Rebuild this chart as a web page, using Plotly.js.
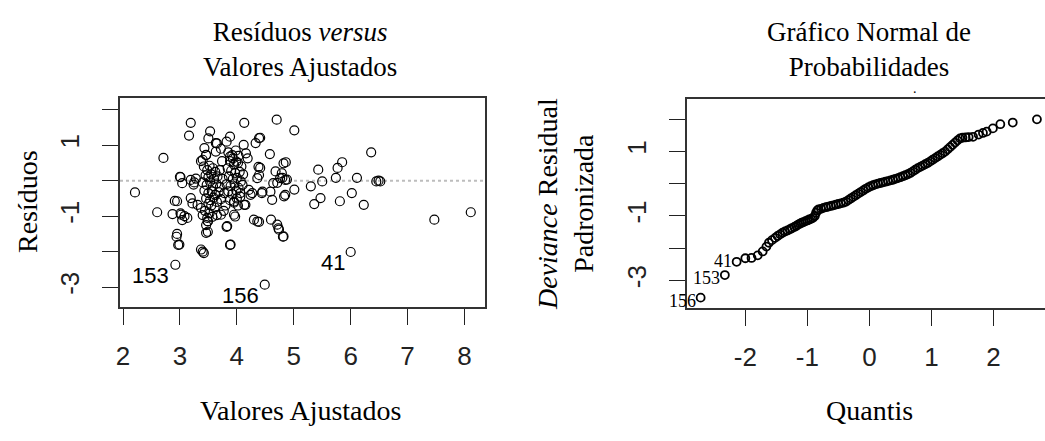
<!DOCTYPE html>
<html>
<head>
<meta charset="utf-8">
<script src="https://cdn.plot.ly/plotly-3.0.1.min.js"></script>
<style>
  body { margin: 0; background: #fff; }
  #chart { width: 1045px; height: 441px; }
</style>
</head>
<body>
<div id="chart"></div>
<script>
// Left panel: residuals vs fitted values
const fittedX = [
  3.19, 3.16, 2.71, 2.21, 2.60, 2.95, 2.87, 3.02, 2.95, 2.99, 2.92, 3.01, 3.13, 3.19, 3.37, 3.42, 3.46, 3.37, 3.46, 3.53,
  3.63, 3.83, 3.89, 3.95, 3.72, 3.49, 3.28, 3.24, 3.37, 3.08, 4.13, 4.70, 5.01, 4.39, 4.33, 4.58, 4.86, 4.41, 4.68, 4.80,
  4.88, 4.71, 5.01, 4.83, 4.62, 4.44, 4.27, 4.13, 4.30, 4.39, 4.60, 4.71, 4.74, 4.82, 4.49, 5.30, 5.43, 5.50, 5.47, 5.36,
  5.77, 5.85, 5.74, 5.81, 6.02, 6.11, 6.23, 6.00, 6.36, 6.45, 6.49, 6.52, 7.47, 8.11,
  3.50, 3.65, 3.88, 3.82, 4.12, 4.41, 3.63, 3.46, 3.88, 3.93, 3.99, 4.16, 4.19, 4.38, 4.79, 4.85, 4.76, 4.64, 4.82, 4.85,
  4.59, 4.45, 4.36, 4.73, 4.81, 4.36, 4.39, 4.21, 4.24, 4.15, 3.97, 3.82, 3.88, 3.40, 2.94, 2.97, 3.00, 3.04, 3.19, 3.25,
  2.91, 3.01, 3.04, 3.22, 3.31, 3.40, 3.49, 3.46, 3.49, 3.65, 3.95, 4.00, 4.06, 3.43, 3.40,
  3.42, 3.48, 3.52, 3.58, 3.62, 3.45, 3.50, 3.55, 3.60, 3.66, 3.70, 3.40, 3.47, 3.53, 3.58, 3.64, 3.70, 3.43, 3.50, 3.56,
  3.62, 3.68, 3.46, 3.53, 3.59, 3.65, 3.72, 3.55, 3.61, 3.50, 3.44, 3.52, 3.57, 3.48,
  3.85, 3.92, 3.98, 4.03, 3.88, 3.95, 4.02, 4.08, 3.84, 3.90, 3.97, 4.05, 4.11, 3.86, 3.93, 4.00, 4.07, 3.82, 3.89, 3.96,
  4.03, 4.10, 3.85, 3.92, 3.99, 4.06, 3.88, 3.95, 4.02, 3.80, 3.75, 3.78, 3.74, 3.77, 3.72
];
const residY = [
  1.63, 1.27, 0.64, -0.33, -0.89, -0.58, -0.94, -0.96, -1.50, -1.80, -2.37, 0.10, -1.05, -0.49, -1.94, -2.04, -1.47, 0.55, 0.73, 1.39,
  1.06, -1.28, -1.80, -0.96, -0.96, -1.14, 0.06, -0.11, -0.77, -1.00, 1.63, 1.72, 1.42, 1.20, 1.06, 0.75, 0.52, 0.36, 0.26, 0.08,
  0.03, -0.06, -0.25, -0.44, -0.54, -0.35, -0.35, -0.68, -1.10, -1.16, -1.10, -1.24, -1.38, -1.57, -2.93, -0.16, 0.31, -0.02, -0.49, -0.66,
  0.36, 0.52, 0.08, -0.58, -0.35, 0.08, -0.68, -2.01, 0.80, -0.02, 0.00, -0.02, -1.10, -0.89,
  1.19, 1.05, 1.24, 1.10, 1.01, 1.21, 0.82, 0.72, 0.68, 0.63, 0.54, 0.77, 0.63, 0.39, 0.21, 0.02, 0.07, -0.07, 0.49, -0.40,
  -0.31, -0.31, -1.15, -1.34, -1.58, 0.07, 0.16, -0.26, -0.40, -0.68, -1.01, -1.30, -1.81, -2.00, -1.58, -1.81, 0.11, -0.07, 0.02, -0.05,
  -0.57, -0.92, -1.11, -0.64, -0.68, -0.97, -1.15, -1.25, -1.44, -0.97, -0.59, -0.50, -0.35, 0.92, 0.59,
  0.40, 0.30, 0.42, 0.35, 0.25, 0.15, 0.10, 0.18, 0.05, 0.12, 0.30, -0.05, -0.12, -0.02, -0.15, -0.08, -0.18, -0.28, -0.35, -0.30,
  -0.40, -0.32, -0.50, -0.55, -0.48, -0.60, -0.52, -0.70, -0.75, -0.65, -0.85, -0.92, -1.02, -1.05,
  0.80, 0.72, 0.85, 0.70, 0.55, 0.45, 0.50, 0.40, 0.35, 0.28, 0.22, 0.25, 0.18, 0.12, 0.05, 0.08, -0.02, -0.10, -0.15, -0.08,
  -0.20, -0.12, -0.30, -0.38, -0.28, -0.45, -0.55, -0.62, -0.70, -0.70, 0.05, -0.35, 0.55, -0.85, 0.90
];
const leftLabels = ['153', '156', '41'];
const leftLabelX = [2.92, 4.49, 6.00];
const leftLabelY = [-2.37, -2.93, -2.01];

// Right panel: normal probability plot
const qqX = [
  -2.72, -2.33, -2.14, -2.00, -1.90, -1.80, -1.72, -1.66, -1.62, -1.57, -1.52, -1.48, -1.44, -1.40, -1.36,
  -1.32, -1.28, -1.25, -1.21, -1.18, -1.15, -1.12, -1.09, -1.06, -1.03, -1.00, -0.97, -0.94, -0.91, -0.88, -0.86, -0.84,
  -0.82, -0.78, -0.74, -0.70, -0.66, -0.62, -0.58, -0.54, -0.50, -0.46, -0.42, -0.38, -0.34, -0.30, -0.26, -0.22, -0.18,
  -0.14, -0.10, -0.06, -0.02, 0.02, 0.06, 0.10, 0.14, 0.18, 0.22, 0.26, 0.30, 0.34, 0.38, 0.42, 0.46, 0.50, 0.54, 0.58,
  0.62, 0.66, 0.70, 0.74, 0.78, 0.82, 0.86, 0.90, 0.94, 0.98, 1.02, 1.06, 1.10, 1.14, 1.18, 1.22, 1.26, 1.30, 1.34,
  1.38, 1.42, 1.46, 1.50, 1.55, 1.60, 1.67, 1.76, 1.83, 1.89, 1.99, 2.11, 2.31, 2.70
];
const qqY = [
  -3.53, -2.83, -2.42, -2.31, -2.30, -2.22, -2.10, -1.95, -1.83, -1.75, -1.68, -1.62, -1.57, -1.52, -1.48,
  -1.45, -1.41, -1.38, -1.34, -1.31, -1.27, -1.24, -1.21, -1.19, -1.16, -1.14, -1.11, -1.09, -1.06, -1.00, -0.90, -0.83,
  -0.80, -0.78, -0.75, -0.73, -0.71, -0.69, -0.67, -0.65, -0.63, -0.61, -0.59, -0.56, -0.51, -0.46, -0.41, -0.36, -0.31,
  -0.26, -0.21, -0.16, -0.12, -0.08, -0.05, -0.02, 0.00, 0.02, 0.04, 0.06, 0.08, 0.10, 0.12, 0.15, 0.17, 0.20, 0.23, 0.26,
  0.29, 0.33, 0.38, 0.43, 0.48, 0.52, 0.56, 0.60, 0.64, 0.69, 0.74, 0.79, 0.84, 0.89, 0.94, 0.99, 1.06, 1.13, 1.20,
  1.27, 1.34, 1.40, 1.42, 1.43, 1.44, 1.45, 1.52, 1.57, 1.61, 1.71, 1.84, 1.89, 1.99
];
const qqLabels = ['156', '153', '41'];
const qqLabelX = [-2.72, -2.33, -2.14];
const qqLabelY = [-3.53, -2.83, -2.42];

const xTicksLeft = [2, 3, 4, 5, 6, 7, 8];
const xTicksRight = [-2, -1, 0, 1, 2];
const xTickTextRight = ['-2', '-1', '0', '1', '2'];
const yTickVals = [-3, -2, -1, 0, 1, 2];
const yTickText = ['-3', '', '-1', '', '1', ''];

const serif = 'Liberation Serif, Times New Roman, serif';
const sans = 'Liberation Sans, Arial, sans-serif';
const H = 441;
const py = v => (H - v) / H; // pixel row -> paper y

const traces = [
  { x: fittedX, y: residY, type: 'scatter', mode: 'markers', xaxis: 'x', yaxis: 'y', hoverinfo: 'skip',
    marker: { symbol: 'circle-open', size: 9, color: 'black', line: { width: 1.2, color: 'black' } } },
  { x: qqX, y: qqY, type: 'scatter', mode: 'markers', xaxis: 'x2', yaxis: 'y2', hoverinfo: 'skip',
    marker: { symbol: 'circle-open', size: 8, color: 'black', line: { width: 1.8, color: 'black' } } }
];

const axisBase = {
  showgrid: false, zeroline: false, showline: true, linecolor: '#333', linewidth: 2,
  ticks: 'outside', ticklen: 16, tickwidth: 1, tickcolor: '#222',
  tickfont: { family: sans, size: 26, color: '#222' }
};

const annotations = [];
function addText(text, x, y, size, extra) {
  annotations.push(Object.assign({
    text: text, xref: 'paper', yref: 'paper', x: x / 1045, y: py(y),
    xanchor: 'center', yanchor: 'middle', showarrow: false,
    font: { family: serif, size: size, color: 'black' }
  }, extra || {}));
}
// titles
addText('Resíduos <i>versus</i><br>Valores Ajustados', 300, 50, 27);
addText('Gráfico Normal de<br>Probabilidades', 869, 50, 27);
// axis titles
addText('Valores Ajustados', 300, 410, 28);
addText('Quantis', 869, 410, 28);
addText('Resíduos', 27, 202, 28, { textangle: -90 });
addText('<i>Deviance</i> Residual<br>Padronizada', 566, 204, 28, { textangle: -90 });
// stray dot above right panel
addText('.', 915, 88, 14);

leftLabels.forEach((t, i) => annotations.push({
  text: t, x: leftLabelX[i], y: leftLabelY[i], xref: 'x', yref: 'y', showarrow: false,
  xanchor: 'right', yanchor: 'top', xshift: -4, yshift: 4,
  font: { family: sans, size: 22, color: 'black' }
}));
qqLabels.forEach((t, i) => annotations.push({
  text: t, x: qqLabelX[i], y: qqLabelY[i], xref: 'x2', yref: 'y2', showarrow: false,
  xanchor: 'right', yanchor: 'middle', xshift: -3, yshift: i === 2 ? 1 : -3,
  font: { family: serif, size: 18, color: 'black' }
}));

const layout = {
  width: 1045, height: 441,
  margin: { l: 0, r: 0, t: 0, b: 0 },
  paper_bgcolor: 'white', plot_bgcolor: 'white',
  showlegend: false,
  xaxis: Object.assign({}, axisBase, {
    domain: [120 / 1045, 485 / 1045], range: [1.947, 8.36], anchor: 'y', mirror: true,
    tickvals: xTicksLeft, ticklabelstandoff: 9
  }),
  yaxis: Object.assign({}, axisBase, {
    domain: [py(307), py(98)], range: [-3.56, 2.33], anchor: 'x', mirror: true,
    tickvals: yTickVals, ticktext: yTickText, tickangle: -90, ticklabelstandoff: 13
  }),
  xaxis2: Object.assign({}, axisBase, {
    domain: [687 / 1045, 1], range: [-2.94, 2.83], anchor: 'y2', mirror: true,
    tickvals: xTicksRight, ticktext: xTickTextRight, ticklabelstandoff: 9
  }),
  yaxis2: Object.assign({}, axisBase, {
    domain: [py(308), py(99)], range: [-3.85, 2.62], anchor: 'x2', mirror: false,
    tickvals: yTickVals, ticktext: yTickText, tickangle: -90, ticklabelstandoff: 13
  }),
  shapes: [{
    type: 'line', xref: 'x domain', x0: 0, x1: 1, yref: 'y', y0: 0, y1: 0,
    line: { color: '#bdbdbd', width: 2, dash: 'dot' }, layer: 'below'
  }],
  annotations: annotations
};

Plotly.newPlot('chart', traces, layout, { displayModeBar: false, staticPlot: true });
</script>
</body>
</html>
